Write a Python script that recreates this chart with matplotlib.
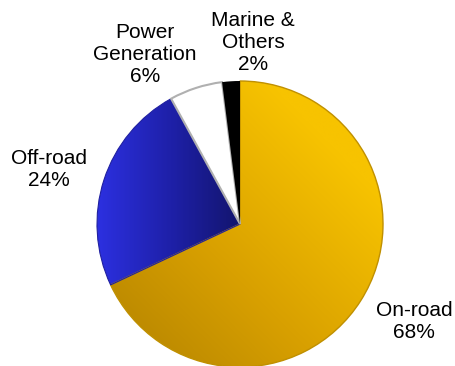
import numpy as np
import matplotlib
matplotlib.use("Agg")
import matplotlib.pyplot as plt
from matplotlib.colors import LinearSegmentedColormap

plt.rcParams['font.family'] = ['Liberation Sans', 'DejaVu Sans']

categories = ["On-road", "Off-road", "Power\nGeneration", "Marine &\nOthers"]
values = [68, 24, 6, 2]
labels = ["On-road\n68%", "Off-road\n24%", "Power\nGeneration\n6%", "Marine &\nOthers\n2%"]

W, H = 456, 366
fig = plt.figure(figsize=(W / 100, H / 100), dpi=100)
ax = fig.add_axes([0, 0, 1, 1])

cx, cy, r = 240, 366 - 224, 143
wedges, _ = ax.pie(values, startangle=90, counterclock=False, center=(cx, cy), radius=r,
                   colors=['#E0A800', '#2226C0', 'white', 'black'],
                   wedgeprops=dict(linewidth=0))

# gradients
ext = [cx - r, cx + r, cy - r, cy + r]
n = 300
xx, yy = np.meshgrid(np.linspace(0, 1, n), np.linspace(0, 1, n))
gold = LinearSegmentedColormap.from_list('g', ['#B08000', '#D8A000', '#F7C300'])
gimg = ax.imshow(np.clip((xx + yy) / 1.6, 0, 1), extent=ext, origin='lower', cmap=gold, zorder=2)
gimg.set_clip_path(wedges[0])
blue = LinearSegmentedColormap.from_list('b', ['#2C30E0', '#1E20A8', '#12146A'])
bext = [cx - r, cx + 5, cy - r, cy + r]
bimg = ax.imshow(xx, extent=bext, origin='lower', cmap=blue, zorder=2)
bimg.set_clip_path(wedges[1])

wedges[0].set_edgecolor('#C09000'); wedges[0].set_linewidth(1.0)
wedges[1].set_edgecolor('#2020A0'); wedges[1].set_linewidth(0.8)
wedges[2].set_edgecolor('#B0B0B0'); wedges[2].set_linewidth(1.5)
for w in wedges:
    w.set_zorder(3)
    if w is wedges[0] or w is wedges[1]:
        w.set_facecolor('none')

ax.set_xlim(0, W)
ax.set_ylim(0, H)
ax.set_aspect('equal')
ax.axis('off')

pos = [(414, 366 - 321), (49, 366 - 170), (145, 366 - 55), (253, 366 - 42)]
for lab, (x, y) in zip(labels, pos):
    ax.text(x, y, lab, ha='center', va='center', fontsize=15, linespacing=1.2, zorder=5)

fig.savefig('out.png', dpi=100)
